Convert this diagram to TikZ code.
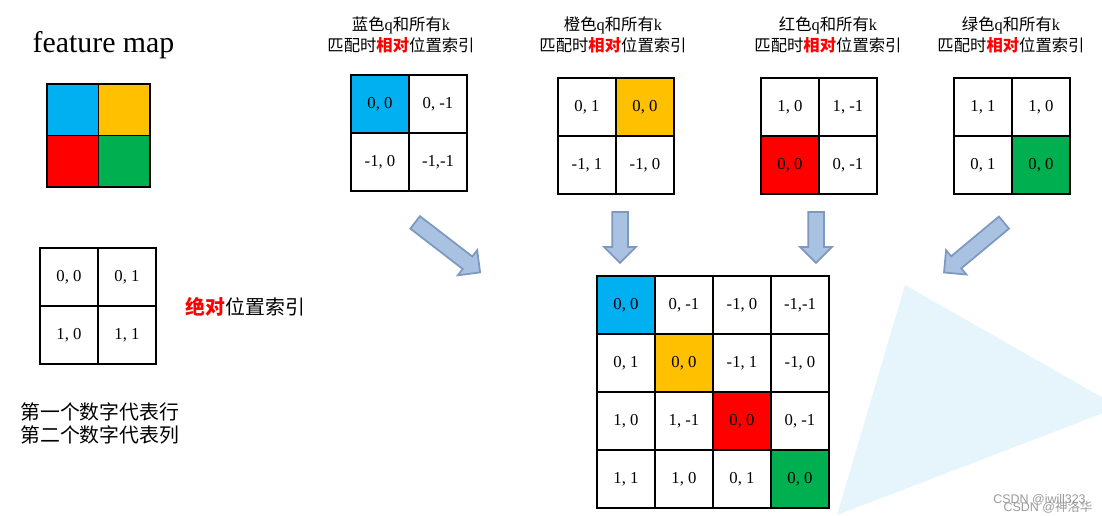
\documentclass[tikz,border=0pt]{standalone}
\usepackage{fontspec}
\setmainfont{Liberation Serif}
\setsansfont{Liberation Sans}
\newfontfamily\cjk{Noto Sans CJK SC}
\usetikzlibrary{shapes.arrows,positioning}
\definecolor{qblue}{HTML}{00B0F0}
\definecolor{qorange}{HTML}{FFC000}
\definecolor{qred}{HTML}{FF0000}
\definecolor{qgreen}{HTML}{00B050}
\definecolor{arrfill}{HTML}{A9C2E2}
\definecolor{arrdraw}{HTML}{7D99C0}
\definecolor{tribg}{HTML}{E5F5FB}
\newcommand{\relword}{{\color{qred}\bfseries 相对}}

\begin{document}
\begin{tikzpicture}[x=0.02cm,y=-0.02cm,
  cell/.style={draw,line width=1.1pt,minimum size=1.16cm,inner sep=0pt,font=\fontsize{9.5}{11}\selectfont},
  fcell/.style={draw,line width=1.1pt,minimum size=1.03cm,inner sep=0pt},
  head/.style={align=center,font=\fontsize{9.3}{11.9}\selectfont\cjk},
  note/.style={font=\fontsize{11.3}{13}\selectfont\cjk},
  bigarr/.style={single arrow,fill=arrfill,draw=arrdraw,line width=1pt,inner xsep=0pt,inner ysep=0.14cm,single arrow head extend=0.16cm},
  wm/.style={text=black!40,font=\fontsize{7.1}{8}\selectfont\sffamily,inner sep=0pt}]
\useasboundingbox (0,0) rectangle (1102,515);
\begin{scope}
\clip (0,0) rectangle (1102,515);
\fill[tribg] (905,285) -- (1119,407) -- (837,515) -- cycle;
\end{scope}

% feature map
\node[font=\fontsize{17}{20}\selectfont,inner sep=0pt] (title) at (103.5,45) {feature map};
\foreach \r/\c/\f in {1/1/qblue,1/2/qorange,2/1/qred,2/2/qgreen}
  \node[fcell,fill=\f] (fm\r\c) at ({21.25+51.5*\c},{58.25+51.5*\r}) {};

% absolute index
\foreach \r/\c/\t in {1/1/{0, 0},1/2/{0, 1},2/1/{1, 0},2/2/{1, 1}}
  \node[cell] (ab\r\c) at ({11+58*\c},{219+58*\r}) {\t};
\node[note] (absnote) at (245.5,307) {{\color{qred}\bfseries 绝对}位置索引};
\node[note,align=left,anchor=west,inner sep=0pt] (rowcol) at (20,423.5) {第一个数字代表行\\第二个数字代表列};

% relative index for each q
\node[head] (hbl) at (401,35) {蓝色{\rmfamily q}和所有{\rmfamily k}\\匹配时\relword 位置索引};
\node[head] (hor) at (613,35) {橙色{\rmfamily q}和所有{\rmfamily k}\\匹配时\relword 位置索引};
\node[head] (hre) at (828,35) {红色{\rmfamily q}和所有{\rmfamily k}\\匹配时\relword 位置索引};
\node[head] (hgr) at (1011,35) {绿色{\rmfamily q}和所有{\rmfamily k}\\匹配时\relword 位置索引};
\foreach \r/\c/\t/\f in {1/1/{0, 0}/qblue,1/2/{0, -1}/white,2/1/{-1, 0}/white,2/2/{-1,-1}/white}
  \node[cell,fill=\f] (bl\r\c) at ({322+58*\c},{46+58*\r}) {\t};
\foreach \r/\c/\t/\f in {1/1/{0, 1}/white,1/2/{0, 0}/qorange,2/1/{-1, 1}/white,2/2/{-1, 0}/white}
  \node[cell,fill=\f] (or\r\c) at ({529+58*\c},{49+58*\r}) {\t};
\foreach \r/\c/\t/\f in {1/1/{1, 0}/white,1/2/{1, -1}/white,2/1/{0, 0}/qred,2/2/{0, -1}/white}
  \node[cell,fill=\f] (re\r\c) at ({732+58*\c},{49+58*\r}) {\t};
\foreach \r/\c/\t/\f in {1/1/{1, 1}/white,1/2/{1, 0}/white,2/1/{0, 1}/white,2/2/{0, 0}/qgreen}
  \node[cell,fill=\f] (gr\r\c) at ({925+58*\c},{49+58*\r}) {\t};

% arrows
\node[bigarr,minimum height=1.64cm,rotate=-37.6] (arbl) at (444.5,245) {};
\node[bigarr,minimum height=1.02cm,rotate=-90] (aror) at (620,233.5) {};
\node[bigarr,minimum height=1.02cm,rotate=-90] (arre) at (816,233.5) {};
\node[bigarr,minimum height=1.56cm,rotate=-140.2] (argr) at (977,245) {};

% full relative index
\foreach \r/\c/\t/\f in {1/1/{0, 0}/qblue,1/2/{0, -1}/white,1/3/{-1, 0}/white,1/4/{-1,-1}/white,
    2/1/{0, 1}/white,2/2/{0, 0}/qorange,2/3/{-1, 1}/white,2/4/{-1, 0}/white,
    3/1/{1, 0}/white,3/2/{1, -1}/white,3/3/{0, 0}/qred,3/4/{0, -1}/white,
    4/1/{1, 1}/white,4/2/{1, 0}/white,4/3/{0, 1}/white,4/4/{0, 0}/qgreen}
  \node[cell,fill=\f] (big\r\c) at ({568+58*\c},{247+58*\r}) {\t};

\node[wm] (wm1) at (1039.5,500) {CSDN @iwill323};
\node[wm] (wm2) at (1048,507) {CSDN @{\cjk 神洛华}};
\end{tikzpicture}
\end{document}
